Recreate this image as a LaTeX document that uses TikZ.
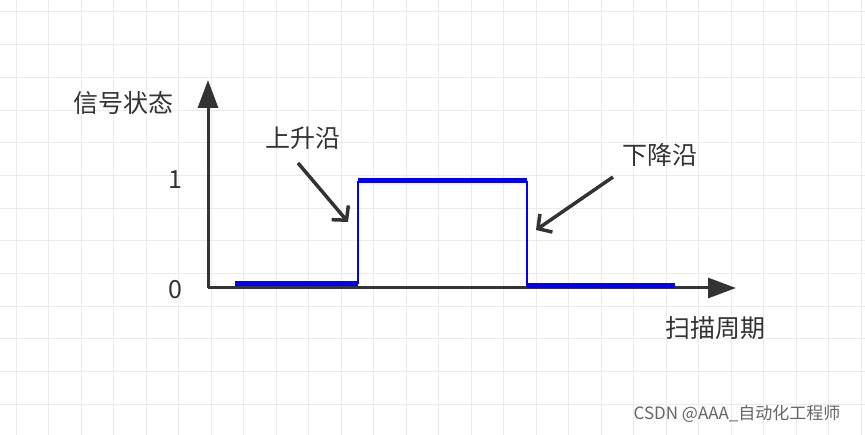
\documentclass[tikz,border=0pt]{standalone}
\usepackage{fontspec}
\setmainfont{Noto Sans CJK SC}
\usetikzlibrary{arrows.meta}
\definecolor{ax}{HTML}{333333}
\definecolor{sig}{HTML}{0000FF}
\definecolor{gridc}{HTML}{EBEBEB}
\begin{document}
\begin{tikzpicture}[x=1pt,y=-1pt,
  lbl/.style={font=\fontsize{25}{28}\selectfont,text=ax,inner sep=0pt},
  axis/.style={draw=ax,line width=3pt,-{Triangle[length=28pt,width=20pt]}},
  pointer/.style={draw=ax,line width=3.5pt,-{Straight Barb[length=10pt,width=22pt]}},
  sigl/.style={draw=sig,line width=5pt},
  sige/.style={draw=sig,line width=2pt}]
\useasboundingbox (0,0) rectangle (865,435);
\fill[white] (0,0) rectangle (865,435);
\foreach \i in {0,...,26} \draw[gridc,line width=1pt] (16+32.5*\i,0) -- (16+32.5*\i,435);
\foreach \j in {0,...,13} \draw[gridc,line width=1pt] (0,12+32.7*\j) -- (865,12+32.7*\j);
\coordinate (o) at (208,288);
\coordinate (ytop) at (208,80);
\coordinate (xend) at (736,288);
\draw[axis] (o) -- (ytop);
\draw[axis] (o) -- (xend);
\draw[sigl] (235,284) -- (358,284);
\draw[sige] (358,284) -- (358,181);
\draw[sigl] (358,181) -- (527,181);
\draw[sige] (527,181) -- (527,286);
\draw[sigl] (527,286) -- (675,286);
\node[lbl] (ylab) at (123,103) {信号状态};
\node[lbl] (one) at (175,180) {1};
\node[lbl] (zero) at (175,290) {0};
\node[lbl] (rise) at (303,138) {上升沿};
\node[lbl] (fall) at (660,155) {下降沿};
\node[lbl] (xlab) at (715,328) {扫描周期};
\coordinate (r1) at (298,163);
\coordinate (r2) at (348,222);
\coordinate (f1) at (613,177);
\coordinate (f2) at (536,230);
\draw[pointer] (r1) -- (r2);
\draw[pointer] (f1) -- (f2);
\node[font=\fontsize{17}{19}\selectfont,text=black!60,inner sep=0pt] (wm) at (737,414) {CSDN @AAA\_自动化工程师};
\end{tikzpicture}
\end{document}
